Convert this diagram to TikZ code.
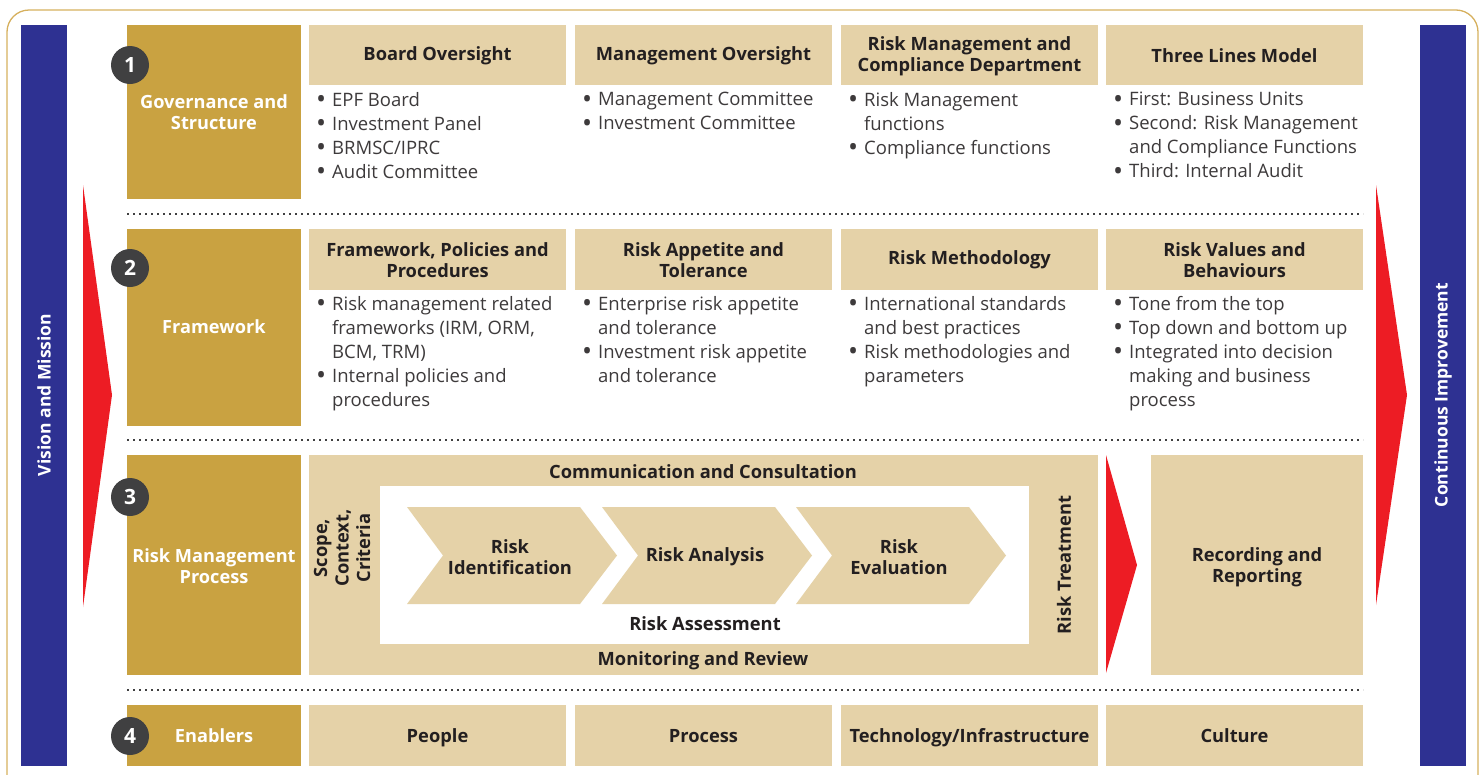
\documentclass[tikz,border=0pt]{standalone}
\usepackage{fontspec}
\setmainfont{Open Sans}
\usetikzlibrary{calc}
\definecolor{navy}{HTML}{2E3192}
\definecolor{gold}{HTML}{C9A241}
\definecolor{beige}{HTML}{E5D2A8}
\definecolor{rred}{HTML}{ED1C24}
\definecolor{badge}{HTML}{404041}
\definecolor{ink}{HTML}{231F20}
\definecolor{frame}{HTML}{D6B05E}
\newcommand{\bl}{\makebox[16pt][l]{\raisebox{-2.3pt}{\scalebox{1.45}{\textbullet}}}}
\newcommand{\ind}{\hspace*{16pt}}
\tikzset{
  goldbox/.style={fill=gold, draw=none},
  beigebox/.style={fill=beige, draw=none},
  goldtxt/.style={text=white, font=\fontsize{18.2}{21.5}\selectfont\bfseries, align=center},
  headtxt/.style={text=ink, font=\fontsize{18.3}{21.5}\selectfont\bfseries, align=center},
  listtxt/.style={text=ink!88, font=\fontsize{18.5}{24}\selectfont, align=left, anchor=north west, inner sep=0pt},
  numbadge/.style={circle, fill=badge, text=white, minimum size=38pt, inner sep=0pt, font=\fontsize{21}{21}\selectfont\bfseries},
  sidetxt/.style={text=white, font=\fontsize{17.5}{21}\selectfont\bfseries, rotate=90},
  redtri/.style={fill=rred, draw=none},
  sepline/.style={draw=badge, line width=1.6pt, dash pattern=on 1.6pt off 4.4pt},
}
\begin{document}
\begin{tikzpicture}[x=1pt,y=-1pt]
\useasboundingbox (0,0) rectangle (1480,774);
% outer frame
\draw[frame, line width=1.3pt, rounded corners=22pt] (7,10) rectangle (1478,800);
% side bars
\fill[navy] (21,25) rectangle (67,766);
\fill[navy] (1420,25) rectangle (1466,766);
\node[sidetxt] (vm) at (44,395) {Vision and Mission};
\node[sidetxt] (ci) at (1443,395) {Continuous Improvement};
% red side triangles
\fill[redtri] (83,185) -- (112,395) -- (83,607) -- cycle;
\fill[redtri] (1376,185) -- (1407,395) -- (1376,605) -- cycle;

% separators
\coordinate (s1a) at (127,214); \coordinate (s1b) at (1363,214);
\coordinate (s2a) at (127,440); \coordinate (s2b) at (1363,440);
\coordinate (s3a) at (127,690); \coordinate (s3b) at (1363,690);
\draw[sepline] (s1a) -- (s1b);
\draw[sepline] (s2a) -- (s2b);
\draw[sepline] (s3a) -- (s3b);

% ---------- Row 1
\fill[goldbox] (127,25) rectangle (301,199);
\node[goldtxt] (g1) at (214,112) {Governance and\\Structure};
\fill[beigebox] (309,25) rectangle (566,85);
\fill[beigebox] (575,25) rectangle (832,85);
\fill[beigebox] (841,25) rectangle (1098,85);
\fill[beigebox] (1106,25) rectangle (1363,85);
\node[headtxt] (h11) at (437.5,56) {Board Oversight};
\node[headtxt] (h12) at (703.5,56) {Management Oversight};
\node[headtxt] (h13) at (969.5,56) {Risk Management and\\Compliance Department};
\node[headtxt] (h14) at (1234.5,56) {Three Lines Model};
\node[listtxt] (l11) at (316,92) {\bl EPF Board\\\bl Investment Panel\\\bl BRMSC/IPRC\\\bl Audit Committee};
\node[listtxt] (l12) at (582,92) {\bl Management Committee\\\bl Investment Committee};
\node[listtxt] (l13) at (848,92) {\bl Risk Management\\\ind functions\\\bl Compliance functions};
\node[listtxt] (l14) at (1113,92) {\bl First: Business Units\\\bl Second: Risk Management\\\ind and Compliance Functions\\\bl Third: Internal Audit};
\node[numbadge] (b1) at (130,65) {1};

% ---------- Row 2
\fill[goldbox] (127,229) rectangle (301,426);
\node[goldtxt] (g2) at (214,327) {Framework};
\fill[beigebox] (309,229) rectangle (566,290);
\fill[beigebox] (575,229) rectangle (832,290);
\fill[beigebox] (841,229) rectangle (1098,290);
\fill[beigebox] (1106,229) rectangle (1363,290);
\node[headtxt] (h21) at (437.5,260) {Framework, Policies and\\Procedures};
\node[headtxt] (h22) at (703.5,260) {Risk Appetite and\\Tolerance};
\node[headtxt] (h23) at (969.5,260) {Risk Methodology};
\node[headtxt] (h24) at (1234.5,260) {Risk Values and\\Behaviours};
\node[listtxt] (l21) at (316,296) {\bl Risk management related\\\ind frameworks (IRM, ORM,\\\ind BCM, TRM)\\\bl Internal policies and\\\ind procedures};
\node[listtxt] (l22) at (582,296) {\bl Enterprise risk appetite\\\ind and tolerance\\\bl Investment risk appetite\\\ind and tolerance};
\node[listtxt] (l23) at (848,296) {\bl International standards\\\ind and best practices\\\bl Risk methodologies and\\\ind parameters};
\node[listtxt] (l24) at (1113,296) {\bl Tone from the top\\\bl Top down and bottom up\\\bl Integrated into decision\\\ind making and business\\\ind process};
\node[numbadge] (b2) at (130,268) {2};

% ---------- Row 3
\fill[goldbox] (127,455) rectangle (301,675);
\node[goldtxt] (g3) at (214,566) {Risk Management\\Process};
\fill[beigebox] (309,455) rectangle (1098,675);
\fill[white] (380,486) rectangle (1029,644);
\node[headtxt] (cc) at (703,472) {Communication and Consultation};
\node[headtxt] (mr) at (703,661) {Monitoring and Review};
\node[headtxt] (ra) at (705,624) {Risk Assessment};
\node[headtxt, rotate=90] (scc) at (342,548) {Scope,\\Context,\\Criteria};
\node[headtxt, rotate=90] (rt) at (1064,565) {Risk Treatment};
\foreach \L/\nm in {407/c1,602/c2,796/c3}{
  \fill[beige] (\L,507) -- (\L+173,507) -- (\L+210,555.5) -- (\L+173,604) -- (\L,604) -- (\L+36,555.5) -- cycle;
}
\node[headtxt] (ri) at (510,557) {Risk\\Identification};
\node[headtxt] (ran) at (705,557) {Risk Analysis};
\node[headtxt] (re) at (899,557) {Risk\\Evaluation};
\fill[redtri] (1106,455) -- (1137,565) -- (1106,673) -- cycle;
\fill[beigebox] (1151,455) rectangle (1363,675);
\node[headtxt] (rr) at (1257,567) {Recording and\\Reporting};
\node[numbadge] (b3) at (130,497) {3};

% ---------- Row 4
\fill[goldbox] (127,705) rectangle (301,766);
\node[goldtxt] (g4) at (214,736) {Enablers};
\fill[beigebox] (309,705) rectangle (566,766);
\fill[beigebox] (575,705) rectangle (832,766);
\fill[beigebox] (841,705) rectangle (1098,766);
\fill[beigebox] (1106,705) rectangle (1363,766);
\node[headtxt, anchor=base] (e1) at (437.5,742) {People};
\node[headtxt, anchor=base] (e2) at (703.5,742) {Process};
\node[headtxt, anchor=base] (e3) at (969.5,742) {Technology/Infrastructure};
\node[headtxt, anchor=base] (e4) at (1234.5,742) {Culture};
\node[numbadge] (b4) at (130,736) {4};
\end{tikzpicture}
\end{document}
